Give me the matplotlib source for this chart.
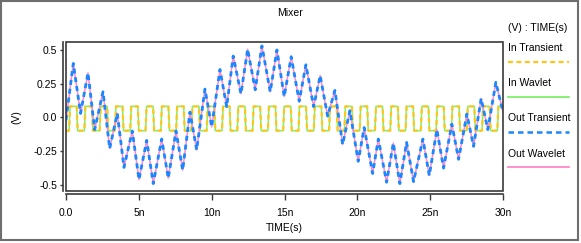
import matplotlib
matplotlib.use("Agg")
import matplotlib.pyplot as plt
from matplotlib.lines import Line2D
from matplotlib.patches import Rectangle

plt.rcParams['font.family'] = ['Liberation Sans', 'DejaVu Sans']
plt.rcParams['font.size'] = 7.5

W, H = 581, 243

# x in ns
# output wave: local peaks / troughs
out_t = [0.0, 0.50, 1.00, 1.51, 1.97, 2.54, 3.00, 3.52, 3.98, 4.55, 5.01, 5.54,
         5.99, 6.57, 7.02, 7.55, 8.01, 8.51, 8.97, 9.54, 10.00, 10.57, 11.03,
         11.48, 12.01, 12.47, 12.99, 13.45, 14.02, 14.48, 14.98, 15.46, 16.01,
         16.47, 17.00, 17.45, 17.96, 18.46, 18.99, 19.49, 20.06, 20.47, 21.05,
         21.44, 22.01, 22.47, 22.92, 23.38, 23.86, 24.50, 24.94, 25.46, 25.92,
         26.49, 26.95, 27.52, 27.98, 28.50, 28.96, 29.51, 30.0]
out_v = [-0.02, 0.40, 0.03, 0.33, -0.09, 0.19, -0.23, 0.03, -0.37, -0.10, -0.46, -0.17,
         -0.49, -0.16, -0.45, -0.10, -0.39, 0.04, -0.24, 0.21, -0.07, 0.355, 0.08,
         0.455, 0.175, 0.505, 0.205, 0.53, 0.19, 0.50, 0.155, 0.45, 0.12,
         0.39, 0.08, 0.31, 0.01, 0.20, -0.20, 0.05, -0.325, -0.075, -0.415,
         -0.16, -0.48, -0.19, -0.49, -0.185, -0.475, -0.16, -0.43, -0.09, -0.375,
         -0.05, -0.31, 0.025, -0.214, 0.14, -0.09, 0.26, 0.04]

# input square wave: rising / falling edge times (ns) and levels (V)
in_rise = [0.21, 1.26, 2.31, 3.36, 4.41, 5.46, 6.51, 7.56, 8.61, 9.66, 10.71,
           11.76, 12.81, 13.86, 14.91, 15.96, 17.01, 18.06, 19.11, 20.16, 21.21,
           22.26, 23.31, 24.36, 25.41, 26.46, 27.51, 28.56, 29.61]
in_fall = [0.73, 1.78, 2.83, 3.88, 4.93, 5.98, 7.03, 8.08, 9.13, 10.18, 11.23,
           12.28, 13.33, 14.38, 15.43, 16.48, 17.53, 18.58, 19.63, 20.68, 21.73,
           22.78, 23.83, 24.88, 25.93, 26.98, 28.03, 29.08]
in_low, in_high = -0.098, 0.082

xticks = [0, 5, 10, 15, 20, 25, 30]
xticklabels = ["0.0", "5n", "10n", "15n", "20n", "25n", "30n"]
yticks = [0.5, 0.25, 0.0, -0.25, -0.5]
yticklabels = ["0.5", "0.25", "0.0", "-0.25", "-0.5"]

legend_names = ["In Transient", "In Wavlet", "Out Transient", "Out Wavelet"]
c_yellow, c_green, c_blue, c_pink = "#ffc61a", "#7ef06a", "#1a86ff", "#ff88c8"

# build trapezoid polyline for the square wave
edge = 0.07
sq_t = [0.0]
sq_v = [in_low]
for i, r in enumerate(in_rise):
    sq_t += [r, r + edge]
    sq_v += [in_low, in_high]
    if i < len(in_fall):
        f = in_fall[i]
        sq_t += [f, f + edge]
        sq_v += [in_high, in_low]
sq_t.append(30.0)
sq_v.append(sq_v[-1])


def fx(x):
    return x / W


def fy(y):
    return 1 - y / H


fig = plt.figure(figsize=(W / 100, H / 100), dpi=100)
ax = fig.add_axes([fx(66), fy(190.5), (503 - 66) / W, (190.5 - 41.7) / H])

ax.plot(sq_t, sq_v, color=c_green, lw=1.1, zorder=2)
ax.plot(sq_t, sq_v, color=c_yellow, lw=1.6, ls=(0, (2.2, 1.6)), zorder=3)
ax.plot(out_t, out_v, color=c_pink, lw=1.1, zorder=4)
ax.plot(out_t, out_v, color=c_blue, lw=2.0, ls=(0, (1.8, 1.4)), zorder=5)

ax.set_xlim(0, 30)
ax.set_ylim(-0.541, 0.561)

# box around the plot area, axis lines offset outside it
ax.add_patch(Rectangle((0, 0), 1, 1, transform=ax.transAxes, fill=False,
                       ec="#3a3a3a", lw=1.2, clip_on=False, zorder=6))
ax.spines['top'].set_visible(False)
ax.spines['right'].set_visible(False)
ax.spines['bottom'].set_position(('outward', 2.3))
ax.spines['left'].set_position(('outward', 2.2))
for s in ('bottom', 'left'):
    ax.spines[s].set_color("#3a3a3a")
    ax.spines[s].set_linewidth(1.2)

ax.set_xticks(xticks)
ax.set_xticklabels(xticklabels)
ax.set_yticks(yticks)
ax.set_yticklabels(yticklabels)
ax.tick_params(axis='x', direction='out', length=4.3, width=1.0, pad=6,
               color="#3a3a3a")
ax.tick_params(axis='y', direction='out', length=2.0, width=1.0, pad=2.2,
               color="#3a3a3a")

fig.text(0.5, fy(13.5), "Mixer", ha='center', va='center')
fig.text(fx(284.5), fy(227.5), "TIME(s)", ha='center', va='center')
fig.text(fx(16.7), fy(117), "(V)", ha='center', va='center', rotation=90)

# legend on the right
fig.text(fx(507.7), fy(28.3), "(V) : TIME(s)", ha='left', va='center')
text_y = [47.7, 82.7, 118.3, 153.7]
line_y = [61.7, 96.7, 132.3, 167.3]
styles = [dict(color=c_yellow, lw=1.6, ls=(0, (2.2, 1.6))),
          dict(color=c_green, lw=1.3),
          dict(color=c_blue, lw=1.8, ls=(0, (2.2, 1.6))),
          dict(color=c_pink, lw=1.3)]
for name, ty, ly, st in zip(legend_names, text_y, line_y, styles):
    fig.text(fx(507.7), fy(ty), name, ha='left', va='center')
    fig.add_artist(Line2D([fx(507.7), fx(569)], [fy(ly), fy(ly)],
                          transform=fig.transFigure, **st))

# outer frame
fig.add_artist(Rectangle((fx(0.8), fy(239.5)), fx(577.5), fy(0.8) - fy(239.5),
                         transform=fig.transFigure, fill=False,
                         ec="#6e6e6e", lw=1.5))

fig.savefig("out.png", dpi=100)
